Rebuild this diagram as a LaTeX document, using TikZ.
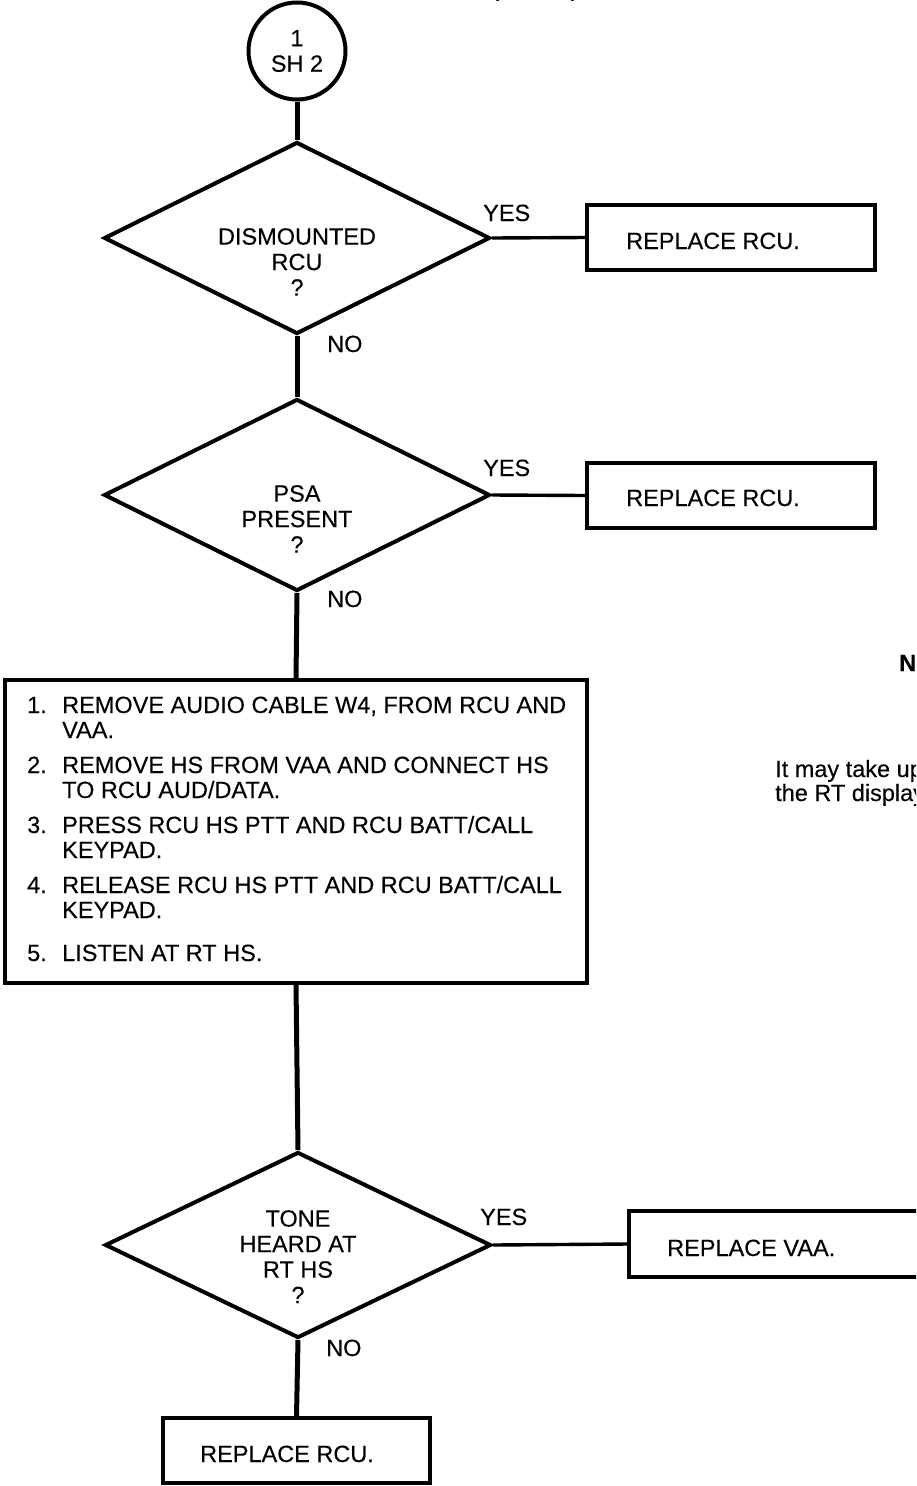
\documentclass[tikz,border=0pt]{standalone}
\usepackage{fontspec}
\setmainfont{Liberation Sans}[FakeBold=0.25]
\usetikzlibrary{shapes.geometric}
\begin{document}
\begin{tikzpicture}[x=1pt,y=-1pt,
  txt/.style={font=\fontsize{23.5}{25.5}\selectfont, inner sep=0pt, align=center},
  dec/.style={diamond, draw, line width=4pt, minimum width=386pt, minimum height=192pt, inner sep=0pt},
  actbox/.style={draw, line width=3.2pt, rectangle, inner sep=0pt},
  vline/.style={line width=5pt},
  hline/.style={line width=3.4pt},
  lbl/.style={font=\fontsize{23.5}{25}\selectfont, inner sep=0pt, anchor=base west}
]
\useasboundingbox (0,0) rectangle (916,1486);
\clip (0,0) rectangle (916,1486);

% fragments at top edge
\node[lbl] (top) at (491,-4) {(\hspace*{72pt})};

% connector circle
\node[circle, draw, line width=4pt, minimum size=97pt, inner sep=0pt] (c1) at (297,51) {};
\node[txt] (c1t) at (297,51) {1\\SH 2};

% decision 1
\node[dec] (d1) at (297,238) {};
\node[txt, anchor=north] (d1t) at (297,228) {DISMOUNTED\\RCU\\?};
\node[lbl] (y1) at (483,221) {YES};
\node[lbl] (n1) at (327,352) {NO};
\node[actbox, minimum width=288pt, minimum height=65pt] (b1) at (731,237.5) {};
\node[lbl] (b1t) at (626,249) {REPLACE RCU.};

% decision 2
\node[dec] (d2) at (297,495) {};
\node[txt, anchor=north] (d2t) at (297,485) {PSA\\PRESENT\\?};
\node[lbl] (y2) at (483,476) {YES};
\node[lbl] (n2) at (327,607) {NO};
\node[actbox, minimum width=288pt, minimum height=65pt] (b2) at (731,495.5) {};
\node[lbl] (b2t) at (626,506) {REPLACE RCU.};

% procedure box
\node[actbox, minimum width=582pt, minimum height=303pt] (p) at (296,831.5) {};
\node[lbl] (p1n) at (27,713) {1.};
\node[lbl] (p1a) at (62,713) {REMOVE AUDIO CABLE W4, FROM RCU AND};
\node[lbl] (p1b) at (62,738) {VAA.};
\node[lbl] (p2n) at (27,773) {2.};
\node[lbl] (p2a) at (62,773) {REMOVE HS FROM VAA AND CONNECT HS};
\node[lbl] (p2b) at (62,798) {TO RCU AUD/DATA.};
\node[lbl] (p3n) at (27,833) {3.};
\node[lbl] (p3a) at (62,833) {PRESS RCU HS PTT AND RCU BATT/CALL};
\node[lbl] (p3b) at (62,858) {KEYPAD.};
\node[lbl] (p4n) at (27,893) {4.};
\node[lbl] (p4a) at (62,893) {RELEASE RCU HS PTT AND RCU BATT/CALL};
\node[lbl] (p4b) at (62,918) {KEYPAD.};
\node[lbl] (p5n) at (27,961) {5.};
\node[lbl] (p5a) at (62,961) {LISTEN AT RT HS.};

% decision 3
\node[dec, minimum height=186pt] (d3) at (298,1245) {};
\node[txt, anchor=north] (d3t) at (298,1210) {TONE\\HEARD AT\\RT HS\\?};
\node[lbl] (y3) at (480,1225) {YES};
\node[lbl] (n3) at (326,1356) {NO};
\node[actbox, minimum width=300pt, minimum height=66pt] (b3) at (779,1244) {};
\node[lbl] (b3t) at (667,1256) {REPLACE VAA.};

\node[actbox, minimum width=267pt, minimum height=65pt] (b4) at (296.5,1450.5) {};
\node[lbl] (b4t) at (200,1462) {REPLACE RCU.};

% side note fragments
\node[lbl, font=\bfseries\fontsize{23.5}{25}\selectfont] (note) at (899,671) {NOTE};
\node[lbl] (nt1) at (775,777) {It may take up};
\node[lbl] (nt2) at (775,801) {the RT display};

% connectors
\draw[vline] (c1.south) -- (d1.north);
\draw[vline] (d1.south) -- (d2.north);
\draw[vline] (d2.south) -- (p.north);
\draw[vline] (p.south) -- (d3.north);
\draw[vline] (d3.south) -- (b4.north);
\draw[hline] (d1.east) -- (b1.west);
\draw[hline] (d2.east) -- (b2.west);
\draw[hline] (d3.east) -- (b3.west);
\end{tikzpicture}
\end{document}
